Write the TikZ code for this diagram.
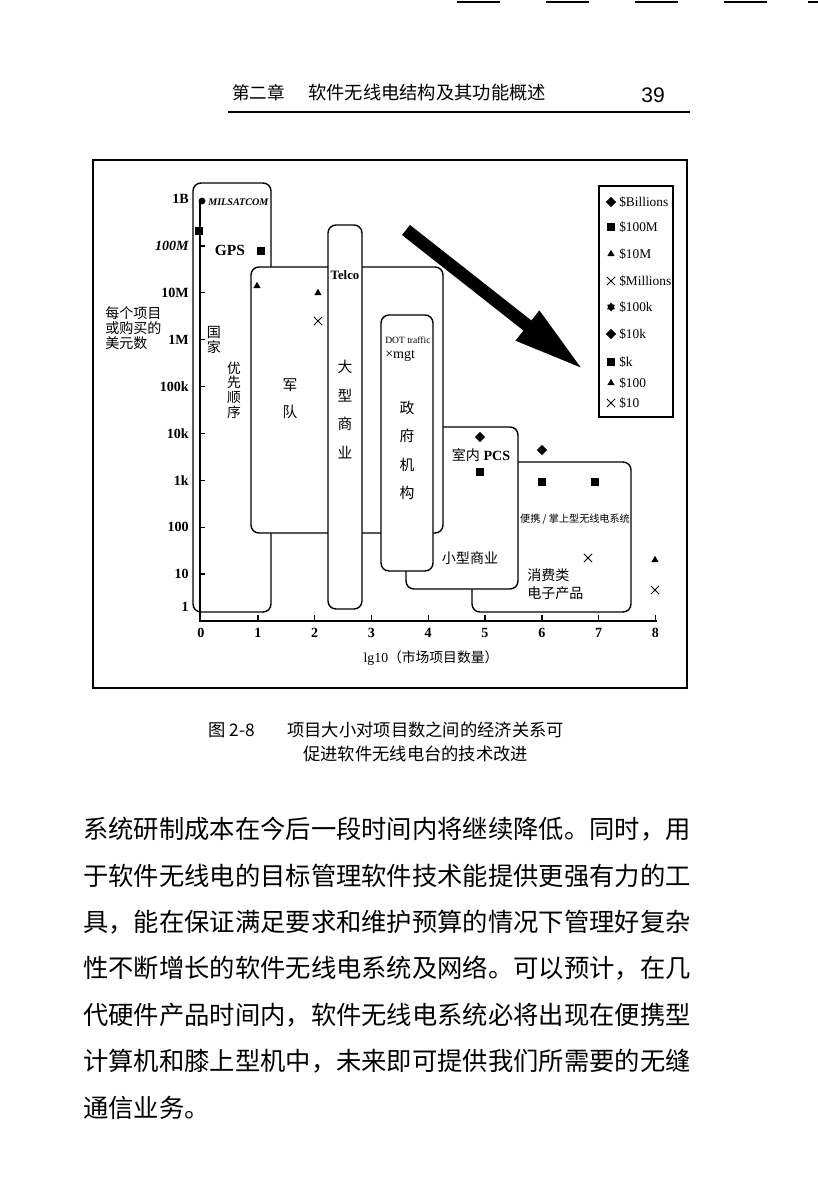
\documentclass[tikz,border=0pt]{standalone}
\usepackage{fontspec}
\setmainfont{Liberation Serif}
\newfontfamily\cjk{Noto Sans CJK SC}
\newfontfamily\hdsans{Liberation Sans}
\usetikzlibrary{arrows.meta,shapes.geometric,shapes.misc}

\begin{document}
\begin{tikzpicture}[x=0.25mm,y=-0.25mm,
    sq/.style={rectangle,fill,inner sep=0pt,minimum size=1.8mm},
    dia/.style={diamond,fill,inner sep=0pt,minimum size=2.6mm},
    tri/.style={regular polygon,regular polygon sides=3,fill,inner sep=0pt,minimum size=2.1mm},
    crs/.style={cross out,draw,line width=0.7pt,inner sep=0pt,minimum size=1.8mm},
    dotmk/.style={circle,fill,inner sep=0pt,minimum size=1.7mm},
    astmk/.style={star,star points=6,fill,inner sep=0pt,minimum size=2.2mm},
    box/.style={draw,fill=white,line width=1pt,rounded corners=2mm}]

    \useasboundingbox (0,0) rectangle (818,1200);
    \fill[white] (0,0) rectangle (818,1200);

    % page head
    \foreach \a in {457,546,635,724}
        \draw[line width=1.2pt] (\a,2) -- ++(43,0);
    \draw[line width=1.2pt] (808,2) -- (818,2);
    \begin{scope}[every node/.style={inner sep=0pt,anchor=west}]
        \node[font=\cjk\fontsize{12.5}{15}\selectfont] (chap) at (232,93) {第二章};
        \node[font=\cjk\fontsize{13}{15}\selectfont] (htitle) at (308,93) {软件无线电结构及其功能概述};
        \node[font=\hdsans\fontsize{15}{18}\selectfont] (pageno) at (641,95) {39};
    \end{scope}
    \coordinate (ruleL) at (228,112);
    \coordinate (ruleR) at (690,112);
    \draw[line width=1pt] (ruleL) -- (ruleR);

    % figure frame
    \draw[line width=1.2pt] (93,160) rectangle (687,688);

    % market boxes
    \draw[box] (193,183) rectangle (271,612);
    \draw[box] (472,462) rectangle (631,612);
    \draw[box] (406,427) rectangle (518,589);
    \draw[box] (251,267) rectangle (443,533);
    \draw[box] (381,315) rectangle (433,571);
    \draw[box] (328,225) rectangle (362,609);

    % axes
    \coordinate (ytop) at (200,201);
    \coordinate (org) at (200,621);
    \coordinate (xend) at (657,621);
    \draw[line width=1.3pt] (ytop) -- (org) -- (xend);
    \foreach \k in {1,...,8}
        \draw[line width=1pt] (200,{621-46.9*\k}) -- ++(5,0);
    \foreach \j in {1,...,8}
        \draw[line width=1pt] ({201+56.8*\j},621) -- ++(0,-6);

    \begin{scope}[every node/.style={inner sep=0pt,font=\bfseries\fontsize{10}{12}\selectfont}]
        \foreach \k/\t in {9/1B,8/{\itshape 100M},7/10M,6/1M,5/100k,4/10k,3/1k,2/100,1/10}
            \node[anchor=east] (ylab\k) at (189,{621-46.9*\k}) {\t};
        \node[anchor=east] (ylab0) at (189,607) {1};
        \foreach \j in {0,...,8}
            \node (xlab\j) at ({201+56.8*\j},633) {\j};
    \end{scope}
    \node[inner sep=0pt,font=\fontsize{9.8}{12}\selectfont] (xtitle) at (431,658) {lg10{\cjk（市场项目数量）}};
    \node[inner sep=0pt,anchor=west,align=left,font=\cjk\fontsize{10}{10.6}\selectfont] (yname) at (105,328) {每个项目\\或购买的\\美元数};

    % points
    \node[dotmk] (milpt) at (202,201) {};
    \node[sq] (gpsa) at (199,231) {};
    \node[sq] (gpsb) at (261,251) {};
    \node[tri] (mil1) at (257,286) {};
    \node[tri] (mil2) at (318,293) {};
    \node[crs] (mil3) at (318,321) {};
    \node[dia] (pcsd) at (480,437) {};
    \node[sq] (pcss) at (480,472) {};
    \node[dia] (portd) at (542,450) {};
    \node[sq] (ports1) at (542,482) {};
    \node[sq] (ports2) at (595,482) {};
    \node[crs] (portx) at (588,558) {};
    \node[tri] (eightt) at (655,560) {};
    \node[crs] (eightx) at (655,590) {};

    % box labels
    \begin{scope}[every node/.style={inner sep=0pt,align=center}]
        \node[anchor=west,font=\bfseries\itshape\fontsize{7.2}{9}\selectfont] (milsat) at (208,202) {MILSATCOM};
        \node[font=\bfseries\fontsize{11}{13}\selectfont] (gps) at (230,250) {GPS};
        \node[font=\cjk\fontsize{10}{11}\selectfont] (guojia) at (214,340) {国\\家};
        \node[font=\cjk\fontsize{9.8}{10.4}\selectfont] (youxian) at (234,390) {优\\先\\顺\\序};
        \node[font=\cjk\fontsize{10.5}{19.2}\selectfont] (jundui) at (290,398.5) {军\\队};
        \node[font=\bfseries\fontsize{9.1}{11}\selectfont] (telco) at (345,275) {Telco};
        \node[font=\cjk\fontsize{10.5}{20.2}\selectfont] (daxing) at (345,409.5) {大\\型\\商\\业};
        \node[anchor=west,font=\fontsize{6.8}{8.5}\selectfont] (dotb) at (385,340) {DOT traffic};
        \node[anchor=west,font=\fontsize{10}{12}\selectfont] (mgt) at (385,356) {×mgt};
        \node[font=\cjk\fontsize{10.5}{20.2}\selectfont] (zhengfu) at (407,450.5) {政\\府\\机\\构};
        \node[font=\fontsize{10}{12}\selectfont] (pcs) at (481,455) {{\cjk 室内} \textbf{PCS}};
        \node[font=\cjk\fontsize{10}{12}\selectfont] (xiaoxing) at (470,558) {小型商业};
        \node[font=\cjk\fontsize{7.2}{9}\selectfont] (bianxie) at (575,519) {便携 / 掌上型无线电系统};
        \node[anchor=west,align=left,font=\cjk\fontsize{10}{12.8}\selectfont] (xiaofei) at (527,584) {消费类\\电子产品};
    \end{scope}

    % legend
    \draw[line width=1pt] (599,186) rectangle (673,417);
    \foreach \y/\m/\t in {202/dia/\$Billions,227/sq/\$100M,254/tri/\$10M,281/crs/\$Millions,
                          307/astmk/\$100k,334/dia/\$10k,362/sq/\$k,383/tri/\$100,403/crs/\$10}
    {
        \node[\m] (lm\y) at (611,\y) {};
        \node[inner sep=0pt,anchor=west,font=\fontsize{9.5}{11}\selectfont] (lt\y) at (619,\y) {\t};
    }

    % trend arrow
    \coordinate (arrS) at (406,230);
    \coordinate (arrE) at (584,370);
    \draw[line width=3.2mm,-{Triangle[length=18mm,width=8.6mm]}] (arrS) -- (arrE);

    % caption
    \begin{scope}[every node/.style={inner sep=0pt,anchor=west,font=\cjk\fontsize{12.3}{15}\selectfont}]
        \node (figno) at (208,730) {图 2-8};
        \node (cap1) at (287,730) {项目大小对项目数之间的经济关系可};
        \node (cap2) at (303,754) {促进软件无线电台的技术改进};
    \end{scope}

    % body text
    \begin{scope}[every node/.style={inner sep=0pt,anchor=west,font=\cjk\fontsize{18}{22}\selectfont}]
        \node (body1) at (83,829) {系统研制成本在今后一段时间内将继续降低。同时，用};
        \node (body2) at (83,875.5) {于软件无线电的目标管理软件技术能提供更强有力的工};
        \node (body3) at (83,922) {具，能在保证满足要求和维护预算的情况下管理好复杂};
        \node (body4) at (83,968.5) {性不断增长的软件无线电系统及网络。可以预计，在几};
        \node (body5) at (83,1015) {代硬件产品时间内，软件无线电系统必将出现在便携型};
        \node (body6) at (83,1061.5) {计算机和膝上型机中，未来即可提供我们所需要的无缝};
        \node (body7) at (83,1108) {通信业务。};
    \end{scope}

\end{tikzpicture}
\end{document}
